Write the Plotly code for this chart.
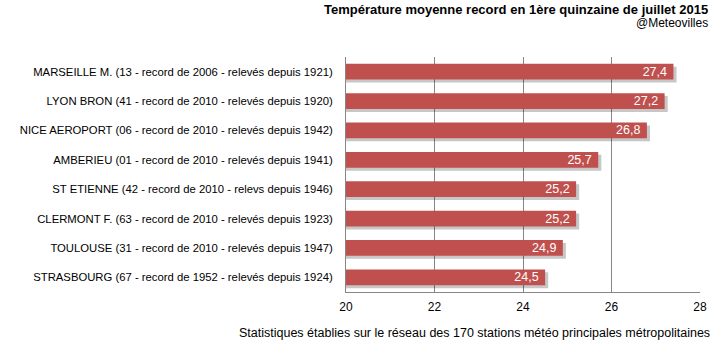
import plotly.graph_objects as go

stations = [
    "MARSEILLE M. (13 - record de 2006 - relevés depuis 1921)",
    "LYON BRON (41 - record de 2010 - relevés depuis 1920)",
    "NICE AEROPORT (06 - record de 2010 - relevés depuis 1942)",
    "AMBERIEU (01 - record de 2010 - relevés depuis 1941)",
    "ST ETIENNE (42 - record de 2010 - relevs depuis 1946)",
    "CLERMONT F. (63 - record de 2010 - relevés depuis 1923)",
    "TOULOUSE (31 - record de 2010 - relevés depuis 1947)",
    "STRASBOURG (67 - record de 1952 - relevés depuis 1924)",
]
temps = [27.4, 27.2, 26.8, 25.7, 25.2, 25.2, 24.9, 24.5]
x_ticks = [20, 22, 24, 26, 28]

labels = [f"{v:.1f}".replace(".", ",") + " " for v in temps]
FONT = "Liberation Sans, Arial, sans-serif"

fig = go.Figure()
# soft drop shadow
fig.add_trace(go.Bar(
    y=stations, x=[v + 0.07 for v in temps], orientation="h",
    width=0.54, offset=-0.27 + 0.1,
    marker=dict(color="rgba(0,0,0,0.22)", line=dict(width=0)),
    hoverinfo="skip", showlegend=False,
))
fig.add_trace(go.Bar(
    y=stations, x=temps, orientation="h",
    width=0.54, offset=-0.27,
    marker=dict(color="#C0504D", line=dict(width=0)),
    text=labels, textposition="inside", insidetextanchor="end",
    constraintext="none", cliponaxis=True,
    textfont=dict(color="white", size=12.5, family=FONT),
    showlegend=False,
))

fig.update_layout(
    width=715, height=342,
    margin=dict(l=346, r=15, t=57, b=50),
    paper_bgcolor="white", plot_bgcolor="white",
    barmode="overlay",
    font=dict(family=FONT, size=12, color="black"),
    xaxis=dict(
        range=[20, 28], tickvals=x_ticks, ticktext=[str(t) for t in x_ticks],
        showgrid=True, gridcolor="#868686", gridwidth=1,
        showline=True, linecolor="#868686", linewidth=1,
        zeroline=False, ticks="", tickfont=dict(size=12, family=FONT),
        ticklabelstandoff=4, automargin=False,
    ),
    yaxis=dict(
        categoryorder="array", categoryarray=stations, autorange="reversed",
        showline=True, linecolor="#868686", linewidth=1,
        showgrid=False, ticks="", tickfont=dict(size=11.3, family=FONT),
        ticklabelstandoff=10, automargin=False,
    ),
    annotations=[
        dict(text="<b>Température moyenne record en 1ère quinzaine de juillet 2015</b>",
             xref="paper", yref="paper", x=1.028, y=1.204, xanchor="right", yanchor="middle",
             showarrow=False, font=dict(size=13, family=FONT, color="black")),
        dict(text="@Meteovilles",
             xref="paper", yref="paper", x=1.028, y=1.145, xanchor="right", yanchor="middle",
             showarrow=False, font=dict(size=12, family=FONT, color="black")),
        dict(text="Statistiques établies sur le réseau des 170 stations météo principales métropolitaines",
             xref="paper", yref="paper", x=1.034, y=-0.174, xanchor="right", yanchor="middle",
             showarrow=False, font=dict(size=12.5, family=FONT, color="black")),
    ],
)

fig.write_html("out.html")
